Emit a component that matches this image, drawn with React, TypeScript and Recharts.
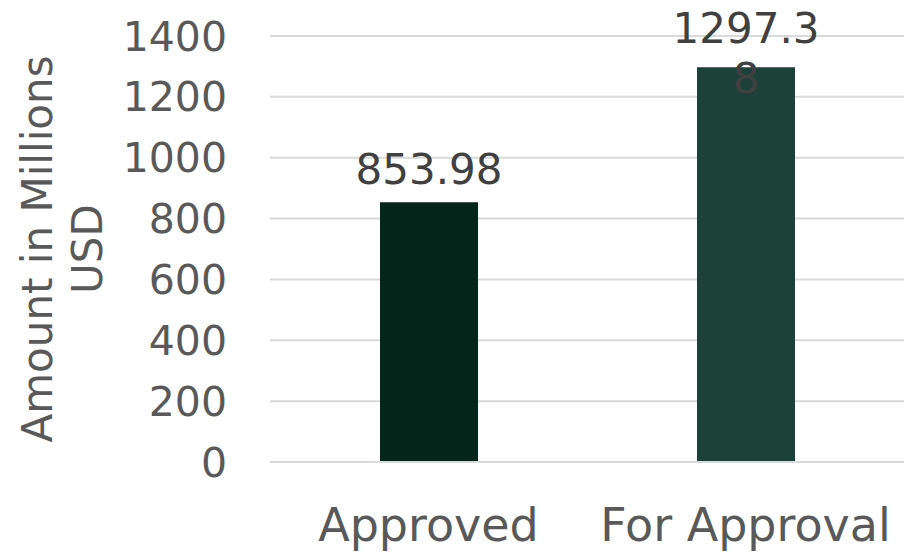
import { BarChart, Bar, Cell, XAxis, YAxis, CartesianGrid, LabelList } from 'recharts'

const categories = ['Approved', 'For Approval']
const amounts = [853.98, 1297.38]
const barColors = ['#03251a', '#1b4139']
const yTicks = [0, 200, 400, 600, 800, 1000, 1200, 1400]

const data = categories.map((name, i) => ({ name, value: amounts[i] }))

const FONT = '"DejaVu Sans", Verdana, sans-serif'

// Excel wraps the long value label onto two lines and keeps it inside the chart
function ValueLabel(props: any) {
  const { x, y, width, value } = props
  const text = String(value)
  const lines = text.length > 6 ? [text.slice(0, 6), text.slice(6)] : [text]
  const lineH = 50
  let first = y - 18 - lineH * (lines.length - 1)
  if (first < 43) first = 43
  return (
    <text
      x={x + width / 2}
      textAnchor="middle"
      fontFamily={FONT}
      fontSize={42}
      fill="#404040"
    >
      {lines.map((l, i) => (
        <tspan key={i} x={x + width / 2} y={first + i * lineH}>
          {l}
        </tspan>
      ))}
    </text>
  )
}

function AxisTitle(props: any) {
  const cy = 249
  return (
    <g transform={`rotate(-90, 37, ${cy})`}>
      <text x={37} y={cy} textAnchor="middle" dominantBaseline="central" fontFamily={FONT} fontSize={42} fill="#595959">
        <tspan x={37} dy={0}>Amount in Millions</tspan>
        <tspan x={37} dy={50}>USD</tspan>
      </text>
    </g>
  )
}

export default function App() {
  return (
    <div style={{ position: 'absolute', left: 0, top: 0, background: '#fff' }}>
      <BarChart
        width={904}
        height={557}
        data={data}
        margin={{ top: 36, right: 0, bottom: 0, left: 0 }}
        barCategoryGap={0}
      >
        <CartesianGrid vertical={false} stroke="#d9d9d9" strokeWidth={2} />
        <XAxis
          dataKey="name"
          height={95}
          tickSize={0}
          tickMargin={46}
          axisLine={{ stroke: '#d9d9d9', strokeWidth: 2 }}
          tickLine={false}
          tick={{ fontFamily: FONT, fontSize: 46, fill: '#595959' }}
          interval={0}
        />
        <YAxis
          width={270}
          domain={[0, 1400]}
          ticks={yTicks}
          tickSize={0}
          tickMargin={43}
          axisLine={false}
          tickLine={false}
          tick={{ fontFamily: FONT, fontSize: 41, fill: '#595959' }}
          label={<AxisTitle />}
        />
        <Bar dataKey="value" barSize={98} isAnimationActive={false}>
          {data.map((d, i) => (
            <Cell key={d.name} fill={barColors[i]} />
          ))}
          <LabelList dataKey="value" content={<ValueLabel />} />
        </Bar>
      </BarChart>
    </div>
  )
}
